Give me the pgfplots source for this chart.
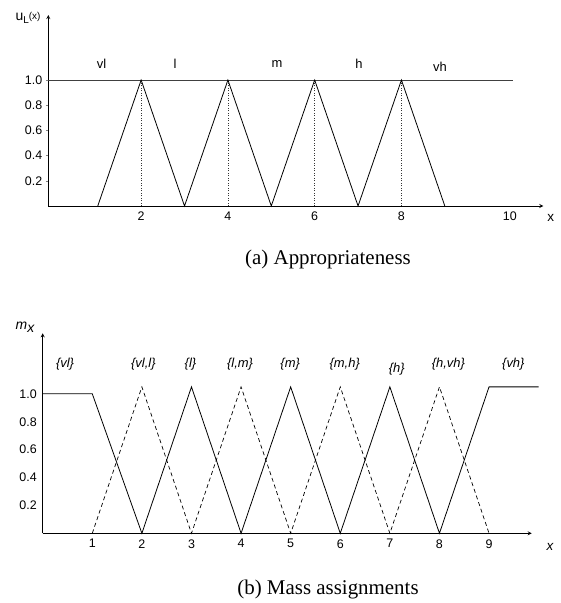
\documentclass[border=0pt]{standalone}
\usepackage{fontspec}
\setmainfont{Liberation Sans}
\newfontfamily\capfont{Liberation Serif}
\usepackage{pgfplots}
\pgfplotsset{compat=1.18}
\pgfplotsset{
  fuzzy/.style={
    scale only axis,
    anchor=south west,
    axis lines=left,
    axis line style={line width=0.8bp, -stealth},
    clip=false,
    tick label style={font=\fontsize{12.5}{14}\selectfont},
    /pgf/number format/assume math mode=true,
    xtick style={draw=none},
    ytick style={line width=0.6bp},
    tick align=outside,
    major tick length=2.5bp,
  },
}

\begin{document}
\begin{tikzpicture}
\path (0bp,0bp) rectangle (561bp,-603bp);

% (a) appropriateness
\begin{axis}[fuzzy,
  at={(48.3bp,-206bp)}, width=495bp, height=191bp,
  xmin=-0.14, xmax=11.27, ymin=0, ymax=1.516,
  xtick={2,4,6,8,10.5}, xticklabels={2,4,6,8,10},
  ytick={0.2,0.4,0.6,0.8,1.0}, yticklabels={0.2,0.4,0.6,0.8,1.0},
]
\addplot[black!75, line width=0.8bp] coordinates {(-0.14,1) (10.58,1)};
\addplot[ycomb, black!80, line width=0.6bp, dash pattern=on 0.7bp off 1.8bp] coordinates {(2,1) (4,1) (6,1) (8,1)};
\addplot[black, line width=0.8bp] coordinates {(1,0) (2,1) (3,0) (4,1) (5,0) (6,1) (7,0) (8,1) (9,0)};
\begin{scope}[font=\fontsize{13}{15}\selectfont]
\node at (axis cs:1.09,1.125) {vl};
\node at (axis cs:2.78,1.125) {l};
\node at (axis cs:5.13,1.125) {m};
\node at (axis cs:7.02,1.13) {h};
\node at (axis cs:8.89,1.105) {vh};
\end{scope}
\end{axis}
\node[font=\fontsize{14}{16}\selectfont] at (28bp,-18bp) {u\raisebox{-3bp}{\fontsize{10}{11}\selectfont L}\raisebox{1bp}{\fontsize{10}{11}\selectfont (x)}};
\node[font=\fontsize{13.5}{15}\selectfont] at (550.7bp,-218bp) {x};
\node[font=\capfont\fontsize{21}{24}\selectfont] at (328bp,-259bp) {(a)\ Appropriateness};

% (b) mass assignments
\begin{axis}[fuzzy,
  at={(42.7bp,-533.3bp)}, width=489bp, height=200bp,
  xmin=0, xmax=9.86, ymin=0, ymax=1.434,
  xtick={1,2,3,4,5,6,7,8,9},
  ytick={0.2,0.4,0.6,0.8,1.0}, yticklabels={0.2,0.4,0.6,0.8,1.0},
  ytick style={draw=none},
]
\addplot[black, line width=0.8bp] coordinates {(0,1) (1,1) (2,0) (3,1.05) (4,0) (5,1.05) (6,0) (7,1.05) (8,0) (9,1.05) (10,1.05)};
\addplot[black, line width=0.7bp, dash pattern=on 4bp off 3bp] coordinates {(1,0) (2,1.05) (3,0) (4,1.05) (5,0) (6,1.05) (7,0) (8,1.05) (9,0)};
\begin{scope}[font=\fontsize{13}{15}\selectfont\itshape]
\node at (axis cs:0.45,1.21) {\{vl\}};
\node at (axis cs:2.03,1.21) {\{vl,l\}};
\node at (axis cs:2.98,1.21) {\{l\}};
\node at (axis cs:3.98,1.21) {\{l,m\}};
\node at (axis cs:4.99,1.21) {\{m\}};
\node at (axis cs:6.09,1.21) {\{m,h\}};
\node at (axis cs:7.14,1.18) {\{h\}};
\node at (axis cs:8.18,1.21) {\{h,vh\}};
\node at (axis cs:9.49,1.21) {\{vh\}};
\end{scope}
\end{axis}
\node[font=\fontsize{14}{16}\selectfont\itshape] at (25bp,-327bp) {m\raisebox{-3bp}{x}};
\node[font=\fontsize{13.5}{15}\selectfont\itshape] at (550bp,-546.7bp) {x};
\node[font=\capfont\fontsize{21}{24}\selectfont] at (328bp,-589bp) {(b)\ Mass assignments};
\end{tikzpicture}
\end{document}
